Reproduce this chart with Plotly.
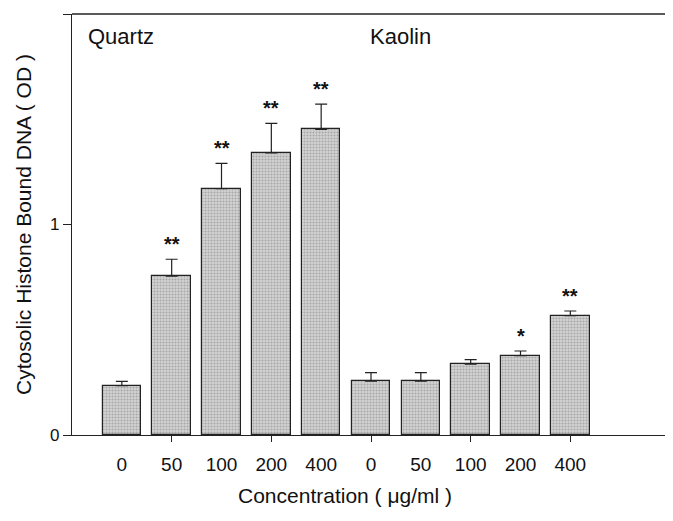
import plotly.graph_objects as go

# Data
concentrations = ["0", "50", "100", "200", "400"]
quartz_values = [0.235, 0.755, 1.17, 1.34, 1.452]
quartz_errors = [0.02, 0.08, 0.12, 0.14, 0.12]
quartz_sig = ["", "**", "**", "**", "**"]
kaolin_values = [0.256, 0.256, 0.336, 0.377, 0.567]
kaolin_errors = [0.04, 0.04, 0.022, 0.022, 0.022]
kaolin_sig = ["", "", "", "*", "**"]
group_labels = ["Quartz", "Kaolin"]

n = len(concentrations)
x_q = list(range(1, n + 1))
x_k = list(range(n + 1, 2 * n + 1))
all_x = x_q + x_k
all_labels = concentrations + concentrations
all_vals = quartz_values + kaolin_values
all_errs = quartz_errors + kaolin_errors
all_sig = quartz_sig + kaolin_sig

FONT = "Liberation Sans, Arial, sans-serif"

fig = go.Figure()
fig.add_trace(go.Bar(
    x=all_x, y=all_vals, width=0.77,
    marker=dict(color="#cfcfcf", line=dict(color="#222", width=1.2),
                pattern=dict(shape=".", fgcolor="#7a7a7a", bgcolor="#d4d4d4", size=3, solidity=0.4)),
    error_y=dict(type="data", array=all_errs, symmetric=False, arrayminus=[0]*len(all_errs),
                 color="#222", thickness=1.2, width=6),
    showlegend=False,
))

# invisible trace on second x axis to show even tick marks
fig.add_trace(go.Scatter(x=[0, 2 * n + 2], y=[None, None], xaxis="x2", showlegend=False, hoverinfo="skip"))

for xv, v, e, s in zip(all_x, all_vals, all_errs, all_sig):
    if s:
        fig.add_annotation(x=xv, y=v + e, text="<b>" + s + "</b>", showarrow=False, yshift=15,
                           font=dict(family=FONT, size=20, color="#111"))

# group divider
fig.add_shape(type="line", x0=n + 0.5, x1=n + 0.5, y0=0, y1=2, xref="x", yref="y",
              line=dict(color="#222", width=1.2))

# group labels
fig.add_annotation(x=0, y=1, xref="paper", yref="paper", xanchor="left", yanchor="top",
                   text=group_labels[0], showarrow=False, xshift=14, yshift=-8,
                   font=dict(family=FONT, size=22, color="#111"))
fig.add_annotation(x=n + 0.5, y=1, xref="x", yref="paper", xanchor="left", yanchor="top",
                   text=group_labels[1], showarrow=False, xshift=22, yshift=-8,
                   font=dict(family=FONT, size=22, color="#111"))

fig.add_annotation(x=0.4565, y=-0.143, xref="paper", yref="paper", yanchor="middle",
                   text="Concentration ( μg/ml )", showarrow=False,
                   font=dict(family=FONT, size=21, color="#111"))

fig.update_layout(
    width=665, height=513,
    margin=dict(l=64, r=3, t=6, b=86),
    paper_bgcolor="white", plot_bgcolor="white",
    font=dict(family=FONT, size=19, color="#111"),
    bargap=0,
    xaxis=dict(range=[0, 2 * n + 2], tickmode="array", tickvals=all_x, ticktext=all_labels,
               ticks="outside", ticklen=12, tickcolor="rgba(0,0,0,0)",
               showline=True, linecolor="#222", linewidth=1.2, showgrid=False, zeroline=False,
               mirror=False, tickfont=dict(size=19)),
    xaxis2=dict(range=[0, 2 * n + 2], overlaying="x", side="bottom", anchor="y",
                tickmode="array", tickvals=[2, 4, 6, 8, 10], showticklabels=False,
                ticks="outside", ticklen=6, tickcolor="#222", showline=False, showgrid=False,
                zeroline=False),
    yaxis=dict(range=[0, 2], tickmode="array", tickvals=[0, 1, 2], ticks="outside", ticklen=8,
               tickcolor="#222", showline=True, linecolor="#222", linewidth=1.2,
               showgrid=False, zeroline=False, tickfont=dict(size=17),
               title=dict(text="Cytosolic Histone Bound DNA ( OD )", font=dict(size=21), standoff=12)),
    shapes=[dict(type="line", xref="paper", yref="paper", x0=0, x1=1.01, y0=1, y1=1,
                 line=dict(color="#222", width=1.5))],
)

fig.write_html("out.html")
